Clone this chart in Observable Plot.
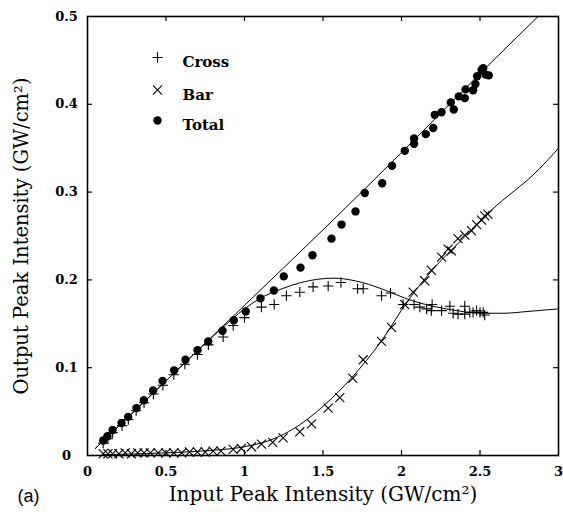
<!DOCTYPE html>
<html><head><meta charset="utf-8">
<script src="https://cdn.jsdelivr.net/npm/d3@7"></script>
<script src="https://cdn.jsdelivr.net/npm/@observablehq/plot@0.6"></script>
<style>body{margin:0;background:#fff}</style>
</head><body><div id="chart"></div>
<script>
// ---- data ----
const totalPtsX = [0.10,0.127,0.16,0.217,0.259,0.312,0.359,0.418,0.478,0.552,0.624,0.701,0.769,0.860,0.932,1.008,1.102,1.187,1.250,1.357,1.433,1.554,1.618,1.707,1.766,1.877,1.940,2.021,2.080,2.080,2.155,2.202,2.212,2.255,2.314,2.333,2.365,2.403,2.408,2.456,2.471,2.482,2.51,2.52,2.535,2.556];
const totalPtsY = [0.017,0.022,0.029,0.037,0.044,0.054,0.063,0.074,0.085,0.097,0.109,0.120,0.130,0.142,0.154,0.164,0.179,0.188,0.204,0.214,0.228,0.247,0.263,0.278,0.299,0.310,0.330,0.347,0.355,0.361,0.366,0.373,0.388,0.391,0.402,0.394,0.409,0.407,0.417,0.416,0.423,0.432,0.439,0.441,0.434,0.433];
const crossPtsX = [0.10,0.13,0.16,0.22,0.26,0.31,0.36,0.42,0.48,0.55,0.62,0.70,0.77,0.864,0.928,1.0,1.108,1.189,1.267,1.352,1.437,1.533,1.614,1.72,1.756,1.873,1.93,2.01,2.08,2.117,2.16,2.195,2.19,2.255,2.308,2.329,2.36,2.403,2.403,2.435,2.456,2.478,2.5,2.52,2.53];
const crossPtsY = [0.014,0.019,0.026,0.034,0.041,0.051,0.060,0.070,0.080,0.092,0.104,0.115,0.126,0.135,0.148,0.157,0.169,0.172,0.182,0.186,0.192,0.193,0.197,0.190,0.190,0.182,0.185,0.172,0.172,0.169,0.167,0.172,0.165,0.165,0.170,0.162,0.161,0.170,0.161,0.163,0.163,0.165,0.163,0.163,0.160];
const barPtsX = [0.10,0.13,0.16,0.20,0.24,0.28,0.32,0.36,0.40,0.45,0.50,0.55,0.60,0.65,0.70,0.75,0.80,0.85,0.928,0.98,1.045,1.108,1.18,1.246,1.352,1.427,1.533,1.607,1.69,1.756,1.873,1.936,2.02,2.074,2.148,2.19,2.255,2.297,2.318,2.36,2.403,2.446,2.478,2.51,2.53,2.55];
const barPtsY = [0.002,0.002,0.002,0.002,0.003,0.002,0.003,0.003,0.003,0.003,0.003,0.003,0.003,0.004,0.004,0.004,0.005,0.005,0.007,0.008,0.010,0.013,0.015,0.020,0.027,0.036,0.054,0.066,0.088,0.109,0.130,0.146,0.172,0.186,0.199,0.211,0.226,0.235,0.233,0.247,0.251,0.256,0.263,0.268,0.273,0.275];

const totalLineX = [0.05,0.5,1.0,1.5,2.0,2.5,2.87];
const totalLineY = [0.008,0.085,0.171,0.257,0.345,0.435,0.5];
const crossLineX = [0.05,0.5,0.85,1.0,1.09,1.24,1.36,1.57,1.75,1.9,2.04,2.2,2.32,2.5,2.65,2.8,3.0];
const crossLineY = [0.008,0.085,0.144,0.167,0.178,0.190,0.197,0.202,0.197,0.188,0.178,0.170,0.166,0.162,0.162,0.164,0.167];
const barLineX = [0.1,0.5,0.8,1.0,1.2,1.36,1.5,1.68,1.87,2.04,2.21,2.38,2.57,2.87,3.0];
const barLineY = [0.001,0.003,0.006,0.010,0.020,0.036,0.056,0.088,0.130,0.176,0.214,0.245,0.279,0.325,0.350];

const xTicks = [0,0.5,1,1.5,2,2.5,3];
const xTickLabels = ["0","0.5","1","1.5","2","2.5","3"];
const yTicks = [0,0.1,0.2,0.3,0.4,0.5];
const yTickLabels = ["0","0.1","0.2","0.3","0.4","0.5"];
const innerXTicks = [0.5,1,1.5,2,2.5];
const innerYTicks = [0.1,0.2,0.3,0.4];

const legendLabels = ["Cross","Bar","Total"];
const legendSymbols = ["plus","times","circle"];

const xTitle = "Input Peak Intensity (GW/cm²)";
const yTitle = "Output Peak Intensity (GW/cm²)";
const panelLabel = "(a)";

// ---- tables ----
const zip = (xs, ys) => xs.map((x, i) => ({x, y: ys[i]}));
const totalPts = zip(totalPtsX, totalPtsY);
const crossPts = zip(crossPtsX, crossPtsY);
const barPts = zip(barPtsX, barPtsY);
const totalLine = zip(totalLineX, totalLineY);
const crossLine = zip(crossLineX, crossLineY);
const barLine = zip(barLineX, barLineY);

const W = 563, H = 519;
const mL = 87, mR = 5, mT = 16, mB = 64;
const pw = W - mL - mR, ph = H - mT - mB;
const serif = "DejaVu Serif";
const tk = 5;
const legendRowDy = [41, 73.5, 104];

const legendMarks = legendLabels.flatMap((lab, i) => [
  legendSymbols[i] === "circle"
    ? Plot.dot([lab], {frameAnchor: "top-left", dx: 70, dy: legendRowDy[i], r: 4.2, fill: "black", stroke: "none"})
    : Plot.dot([lab], {frameAnchor: "top-left", dx: 70, dy: legendRowDy[i], symbol: legendSymbols[i], r: legendSymbols[i] === "plus" ? 3.4 : 4.2, stroke: "black", strokeWidth: 1.1}),
  Plot.text([lab], {frameAnchor: "top-left", dx: 95, dy: legendRowDy[i] - 1, text: d => d, textAnchor: "start", fontFamily: serif, fontWeight: "bold", fontSize: 15, fill: "black"})
]);

const chart = Plot.plot({
  width: W, height: H,
  marginLeft: mL, marginRight: mR, marginTop: mT, marginBottom: mB,
  style: {background: "white", color: "black"},
  x: {domain: [0, 3]},
  y: {domain: [0, 0.5]},
  marks: [
    Plot.line(totalLine, {x: "x", y: "y", stroke: "black", strokeWidth: 1, curve: "monotone-x"}),
    Plot.line(crossLine, {x: "x", y: "y", stroke: "black", strokeWidth: 1, curve: "monotone-x"}),
    Plot.line(barLine, {x: "x", y: "y", stroke: "black", strokeWidth: 1, curve: "monotone-x"}),
    Plot.dot(totalPts, {x: "x", y: "y", r: 4.2, fill: "black", stroke: "none"}),
    Plot.dot(crossPts, {x: "x", y: "y", symbol: "plus", r: 3.4, stroke: "black", strokeWidth: 1.1}),
    Plot.dot(barPts, {x: "x", y: "y", symbol: "times", r: 4.2, stroke: "black", strokeWidth: 1.1}),
    // inward ticks
    Plot.tickX(innerXTicks, {x: d => d, stroke: "black", strokeWidth: 1.2, insetTop: ph - tk}),
    Plot.tickX(innerXTicks, {x: d => d, stroke: "black", strokeWidth: 1.2, insetBottom: ph - tk}),
    Plot.tickY(innerYTicks, {y: d => d, stroke: "black", strokeWidth: 1.2, insetRight: pw - tk}),
    Plot.tickY(innerYTicks, {y: d => d, stroke: "black", strokeWidth: 1.2, insetLeft: pw - tk}),
    Plot.frame({stroke: "black", strokeWidth: 1.6}),
    Plot.axisX(xTicks, {anchor: "bottom", tickSize: 0, tickPadding: 11, tickFormat: (d) => xTickLabels[xTicks.indexOf(d)], fontFamily: serif, fontWeight: "bold", fontSize: 13, label: null}),
    Plot.axisY(yTicks, {anchor: "left", tickSize: 0, tickPadding: 21, textAnchor: "middle", tickFormat: (d) => yTickLabels[yTicks.indexOf(d)], fontFamily: serif, fontWeight: "bold", fontSize: 13, label: null}),
    Plot.text([xTitle], {frameAnchor: "bottom", dy: 45, text: d => d, textAnchor: "middle", fontFamily: serif, fontSize: 20, fill: "black"}),
    Plot.text([yTitle], {frameAnchor: "left", dx: -66, rotate: -90, text: d => d, textAnchor: "middle", fontFamily: serif, fontSize: 19.5, fill: "black"}),
    Plot.text([panelLabel], {frameAnchor: "bottom-left", dx: -59, dy: 46, text: d => d, textAnchor: "middle", fontFamily: "Liberation Sans", fontSize: 18, fill: "black"}),
    ...legendMarks
  ]
});
document.getElementById("chart").appendChild(chart);
</script>
</body></html>
